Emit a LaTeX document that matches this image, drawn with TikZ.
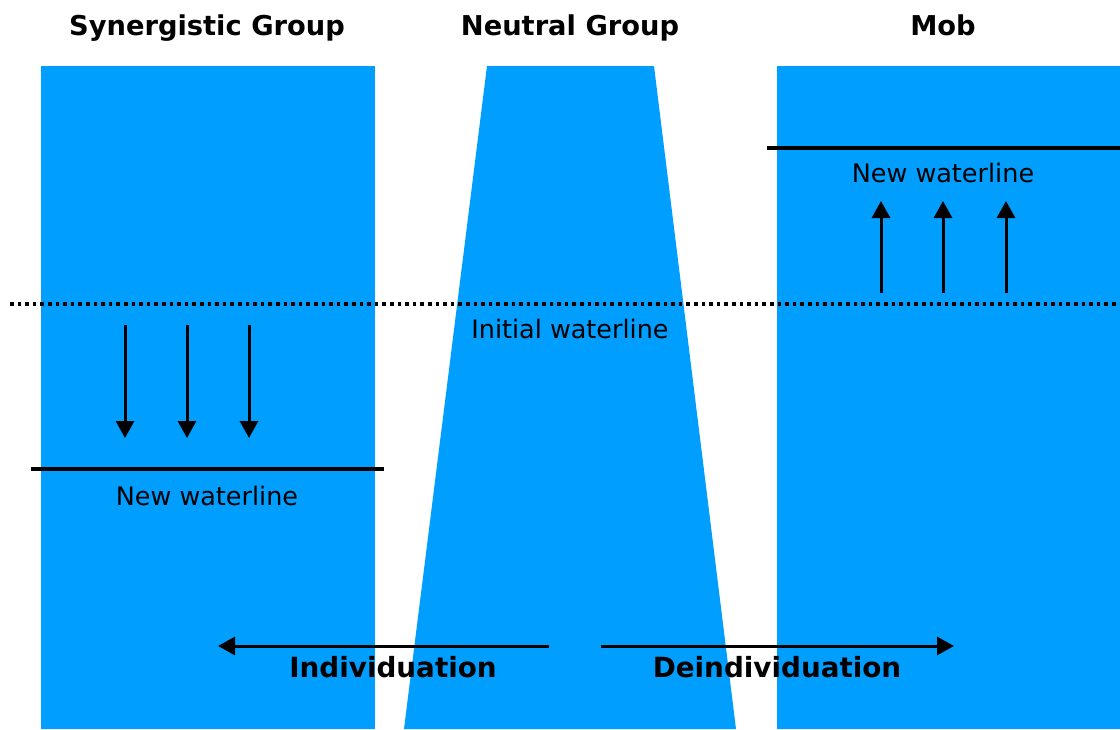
\documentclass[tikz,border=0pt]{standalone}
\usepackage{fontspec}
\setmainfont{DejaVu Sans}
\usetikzlibrary{arrows.meta}
\definecolor{water}{RGB}{0,158,255}
\tikzset{
  body/.style={fill=water, draw=none},
  title/.style={font=\fontsize{27.3}{30}\selectfont\bfseries, anchor=base, inner sep=0pt},
  wlabel/.style={font=\fontsize{25.5}{28}\selectfont, anchor=base, inner sep=0pt},
  dirlabel/.style={font=\fontsize{27.8}{30}\selectfont\bfseries, anchor=base, inner sep=0pt},
  movearrow/.style={line width=3pt, -{Triangle[width=18pt,length=17pt]}},
  newwl/.style={line width=4.3pt},
  initwl/.style={line width=3.6pt, dash pattern=on 3.6pt off 4pt},
}
\begin{document}
\begin{tikzpicture}[x=1pt,y=-1pt]
\useasboundingbox (0,0) rectangle (1120,729);
% bodies
\fill[body] (41,66) rectangle (375,729);
\fill[body] (487,66) -- (654,66) -- (736,729) -- (404,729) -- cycle;
\fill[body] (777,66) rectangle (1120,729);
% titles
\node[title] (t1) at (207,35) {Synergistic Group};
\node[title] (t2) at (570,35) {Neutral Group};
\node[title] (t3) at (943,35) {Mob};
% initial waterline
\coordinate (iwL) at (10,304);
\coordinate (iwR) at (1120,304);
\draw[initwl] (iwL) -- (iwR);
\node[wlabel] (iw) at (570,338) {Initial waterline};
% new waterlines
\coordinate (nlA) at (31,469);
\coordinate (nlB) at (384,469);
\draw[newwl] (nlA) -- (nlB);
\node[wlabel] (nl1) at (207,505) {New waterline};
\coordinate (nrA) at (767,148);
\coordinate (nrB) at (1120,148);
\draw[newwl] (nrA) -- (nrB);
\node[wlabel] (nl2) at (943,182) {New waterline};
% down arrows
\foreach \x [count=\i] in {125,187,249}{
  \coordinate (ds\i) at (\x,325);
  \coordinate (de\i) at (\x,438);
  \draw[movearrow] (ds\i) -- (de\i);
}
% up arrows
\foreach \x [count=\i] in {881,943,1006}{
  \coordinate (us\i) at (\x,293);
  \coordinate (ue\i) at (\x,201);
  \draw[movearrow] (us\i) -- (ue\i);
}
% direction arrows
\coordinate (indS) at (549,646);
\coordinate (indE) at (218,646);
\draw[movearrow] (indS) -- (indE);
\coordinate (deiS) at (601,646);
\coordinate (deiE) at (954,646);
\draw[movearrow] (deiS) -- (deiE);
\node[dirlabel] (ind) at (393,677) {Individuation};
\node[dirlabel] (dei) at (777,677) {Deindividuation};
\end{tikzpicture}
\end{document}
